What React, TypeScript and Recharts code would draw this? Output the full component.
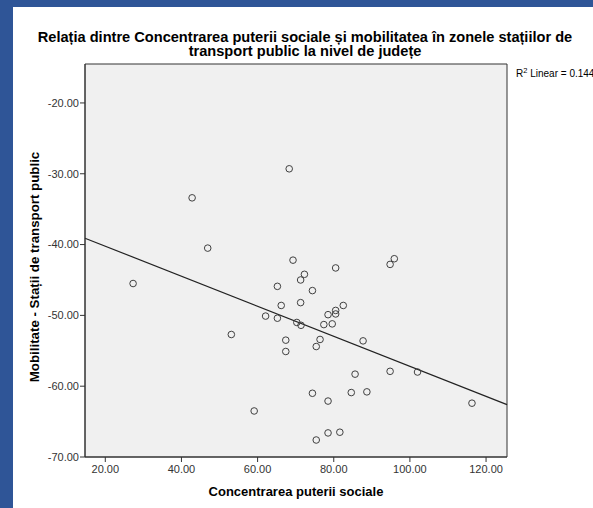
import { ReferenceArea, ReferenceLine, Scatter, ScatterChart, XAxis, YAxis } from "recharts";

// concentrarea puterii sociale (x) vs mobilitate - stații de transport public (y), one point per județ
const puterieSociala = [
  27.3, 42.8, 46.9, 53.1, 59.1, 62.1, 65.2, 65.2, 66.2, 67.4, 67.4, 68.3, 69.3, 70.3,
  71.3, 71.3, 71.4, 72.3, 74.4, 74.4, 75.4, 75.4, 76.4, 77.4, 78.5, 78.5, 78.5, 79.6,
  80.5, 80.5, 80.5, 81.6, 82.5, 84.6, 85.6, 87.7, 88.7, 94.8, 95.9, 94.8, 102.0, 116.3
];
const mobilitate = [
  -45.5, -33.4, -40.5, -52.7, -63.5, -50.1, -45.9, -50.4, -48.6, -53.5, -55.1, -29.3, -42.2, -51.0,
  -45.0, -48.2, -51.4, -44.2, -46.5, -61.0, -54.4, -67.6, -53.4, -51.3, -49.9, -62.1, -66.6, -51.2,
  -43.3, -49.3, -49.8, -66.5, -48.6, -60.9, -58.3, -53.6, -60.8, -42.8, -42.0, -57.9, -58.0, -62.4
];

// linear fit line, read at the plot edges
const fitX = [14.67, 125.5];
const fitY = [-39.1, -62.6];

const xTicks = [20, 40, 60, 80, 100, 120];
const yTicks = [-70, -60, -50, -40, -30, -20];
const xDomain = [14.67, 125.5];
const yDomain = [-70, -14.5];

const points = puterieSociala.map((x, i) => ({ x, y: mobilitate[i] }));

const font = 'Arial, "Liberation Sans", sans-serif';

const OpenCircle = (props: any) => (
  <circle cx={props.cx} cy={props.cy} r={3.3} fill="none" stroke="#404040" strokeWidth={1} />
);

export default function App() {
  return (
    <div
      style={{
        position: "absolute",
        left: 0,
        top: 0,
        width: 593,
        height: 508,
        background: "#2f5597",
        overflow: "hidden",
        fontFamily: font
      }}
    >
      <div style={{ position: "absolute", left: 13, top: 7, right: 0, bottom: 0, background: "#ffffff" }} />

      <div style={{ position: "absolute", left: 0, top: 0 }}>
        <ScatterChart width={593} height={508} margin={{ top: 64, right: 86, bottom: 0, left: 0 }}>
          <XAxis
            type="number"
            dataKey="x"
            domain={xDomain}
            ticks={xTicks}
            allowDataOverflow
            height={51}
            tickSize={5}
            tickMargin={3}
            stroke="#333"
            tick={{ fill: "#333", fontSize: 11, fontFamily: font }}
            tickFormatter={(v) => Number(v).toFixed(2)}
          />
          <YAxis
            type="number"
            dataKey="y"
            domain={yDomain}
            ticks={yTicks}
            allowDataOverflow
            width={85}
            tickSize={5}
            tickMargin={1}
            stroke="#333"
            tick={{ fill: "#333", fontSize: 11, fontFamily: font }}
            tickFormatter={(v) => Number(v).toFixed(2)}
          />
          <ReferenceArea
            x1={xDomain[0]}
            x2={xDomain[1]}
            y1={yDomain[0]}
            y2={yDomain[1]}
            fill="#f0f0f0"
            fillOpacity={1}
            stroke="#333"
            strokeWidth={1}
          />
          <ReferenceLine
            segment={[
              { x: fitX[0], y: fitY[0] },
              { x: fitX[1], y: fitY[1] }
            ]}
            stroke="#222"
            strokeWidth={1.2}
          />
          <Scatter data={points} shape={OpenCircle} isAnimationActive={false} />
        </ScatterChart>
      </div>

      <div
        style={{
          position: "absolute",
          left: 0,
          width: 610,
          top: 30,
          textAlign: "center",
          fontSize: 14.6,
          fontWeight: "bold",
          lineHeight: "14px",
          color: "#000"
        }}
      >
        Relația dintre Concentrarea puterii sociale și mobilitatea în zonele stațiilor de
        <br />
        transport public la nivel de județe
      </div>

      <div
        style={{
          position: "absolute",
          left: 516,
          top: 66,
          fontSize: 10,
          whiteSpace: "nowrap",
          color: "#000"
        }}
      >
        R<sup style={{ fontSize: 7.5 }}>2</sup> Linear = 0.144
      </div>

      <div
        style={{
          position: "absolute",
          left: 34,
          top: 267,
          transform: "translate(-50%, -50%) rotate(-90deg)",
          whiteSpace: "nowrap",
          fontSize: 13.3,
          fontWeight: "bold",
          color: "#000"
        }}
      >
        Mobilitate - Stații de transport public
      </div>

      <div
        style={{
          position: "absolute",
          left: 0,
          width: 592,
          top: 485,
          textAlign: "center",
          fontSize: 13,
          fontWeight: "bold",
          lineHeight: "14px",
          color: "#000"
        }}
      >
        Concentrarea puterii sociale
      </div>
    </div>
  );
}
